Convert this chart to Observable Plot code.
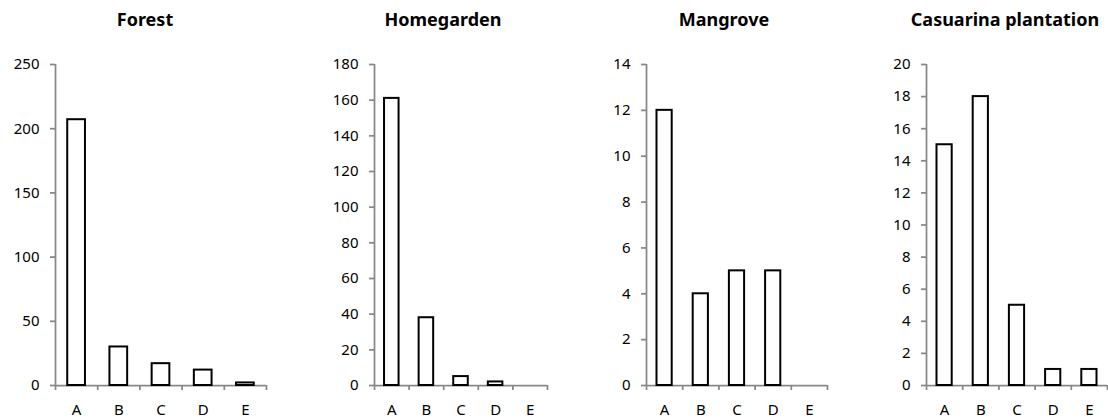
<!DOCTYPE html>
<html><head><meta charset="utf-8">
<script src="https://cdn.jsdelivr.net/npm/d3@7"></script>
<script src="https://cdn.jsdelivr.net/npm/@observablehq/plot@0.6"></script>
<style>
body{margin:0;background:#fff;}
#root{position:relative;width:1108px;height:419px;overflow:hidden;font-family:"Noto Sans",sans-serif;}
.panel{position:absolute;top:0;}
.title{position:absolute;top:10px;font-weight:bold;font-size:18px;line-height:18px;transform:translateX(-50%);white-space:nowrap;color:#000;}
</style></head><body><div id="root"></div>
<script>
const categories = ["A","B","C","D","E"];
const titles = ["Forest","Homegarden","Mangrove","Casuarina plantation"];
const forest = [207,30,17,12,2];
const homegarden = [161,38,5,2,0];
const mangrove = [12,4,5,5,0];
const casuarina = [15,18,5,1,1];
const yMax = [250,180,14,20];
const yStep = [50,20,2,2];

const series = [forest, homegarden, mangrove, casuarina];
const layout = [
  {left:5, inner:211, titleX:145},
  {left:324, inner:173, titleX:443},
  {left:596, inner:181, titleX:724},
  {left:876, inner:181, titleX:1005}
];
const ML=50, MR=1, MT=64, MB=34, H=419;
const gray = "#888888";
const root = document.getElementById("root");

series.forEach((vals, k) => {
  const L = layout[k];
  const data = categories.map((c,i)=>({cat:c, i, v: vals[i]}));
  const bw = L.inner/5, inset = bw*0.29;
  const yTicks = d3.range(0, yMax[k] + yStep[k]/2, yStep[k]);
  const svg = Plot.plot({
    width: ML + L.inner + MR, height: H,
    marginLeft: ML, marginRight: MR, marginTop: MT, marginBottom: MB,
    style: {fontFamily: '"Noto Sans", sans-serif', fontSize: "15px", color: "#000", background: "transparent", overflow: "visible"},
    x: {type: "linear", domain: [0, 5], axis: null, label: null},
    y: {domain: [0, yMax[k]], axis: null, label: null},
    marks: [
      Plot.axisY({ticks: yTicks, label: null, tickSize: 5, tickPadding: 11, stroke: gray, strokeWidth: 1.75, fill: "#000", tickFormat: d => String(d)}),
      Plot.axisX({ticks: d3.range(0, 6), label: null, tickSize: 5, stroke: gray, strokeWidth: 1.75, tickFormat: () => ""}),
      Plot.axisX({ticks: categories.map((c,i)=>i+0.5), label: null, tickSize: 0, tickPadding: 19, fill: "#000", tickFormat: d => categories[Math.floor(d)]}),
      Plot.ruleX([0], {stroke: gray, strokeWidth: 1.75}),
      Plot.ruleY([0], {stroke: gray, strokeWidth: 1.75}),
      Plot.rectY(data.filter(d => d.v > 0), {x1: "i", x2: d => d.i + 1, y: "v", fill: "white", stroke: "black", strokeWidth: 2, insetLeft: inset, insetRight: inset})
    ]
  });
  svg.classList.add("panel");
  svg.style.left = L.left + "px";
  root.appendChild(svg);
  const t = document.createElement("div");
  t.className = "title";
  t.style.left = L.titleX + "px";
  t.textContent = titles[k];
  root.appendChild(t);
});
</script></body></html>
